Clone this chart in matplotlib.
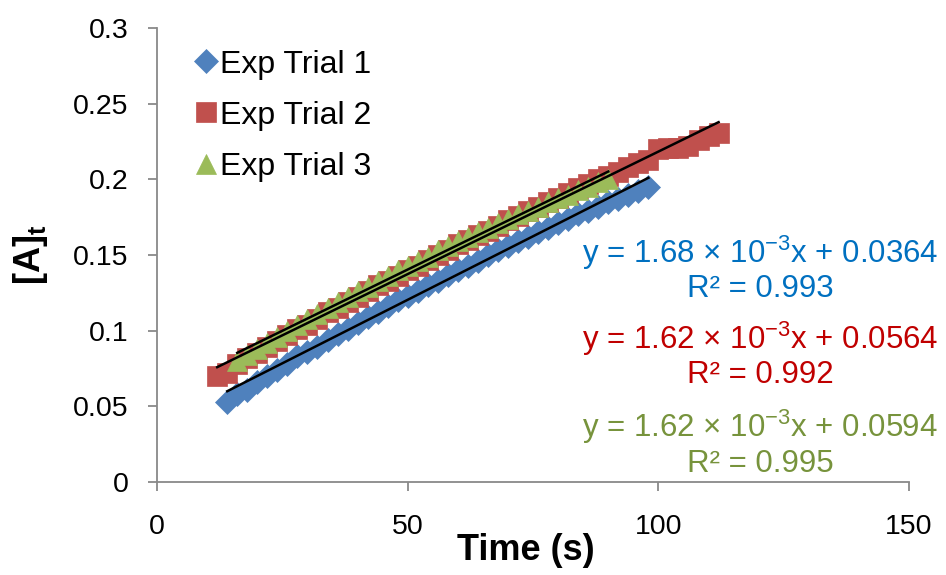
import numpy as np
import matplotlib
matplotlib.use("Agg")
import matplotlib.pyplot as plt

plt.rcParams['font.family'] = ['Liberation Sans', 'DejaVu Sans']
plt.rcParams['mathtext.fontset'] = 'custom'
plt.rcParams['mathtext.rm'] = 'Liberation Sans'
plt.rcParams['mathtext.it'] = 'Liberation Sans:italic'
plt.rcParams['mathtext.bf'] = 'Liberation Sans:bold'

# ---- data ----
t1 = [14, 16, 18, 20, 22, 24, 26, 28, 30, 32, 34, 36, 38, 40, 42, 44, 46, 48, 50, 52, 54, 56,
      58, 60, 62, 64, 66, 68, 70, 72, 74, 76, 78, 80, 82, 84, 86, 88, 90, 92, 94, 96, 98]
a1 = [0.053, 0.058, 0.061, 0.066, 0.070, 0.074, 0.078, 0.083, 0.086, 0.089, 0.094, 0.098,
      0.101, 0.105, 0.109, 0.112, 0.116, 0.120, 0.123, 0.126, 0.130, 0.133, 0.137, 0.140,
      0.143, 0.146, 0.150, 0.153, 0.156, 0.159, 0.162, 0.165, 0.168, 0.171, 0.174, 0.177,
      0.179, 0.182, 0.185, 0.187, 0.190, 0.192, 0.195]

t2 = [12, 14, 16, 18, 20, 22, 24, 26, 28, 30, 32, 34, 36, 38, 40, 42, 44, 46, 48, 50, 52, 54,
      56, 58, 60, 62, 64, 66, 68, 70, 72, 74, 76, 78, 80, 82, 84, 86, 88, 90, 92, 94, 96, 98,
      100, 102, 104, 106, 108, 110, 112]
a2 = [0.070, 0.072, 0.078, 0.082, 0.085, 0.089, 0.093, 0.097, 0.101, 0.104, 0.108, 0.112,
      0.115, 0.119, 0.122, 0.126, 0.130, 0.133, 0.136, 0.140, 0.143, 0.147, 0.150, 0.153,
      0.157, 0.160, 0.163, 0.166, 0.169, 0.173, 0.176, 0.179, 0.182, 0.185, 0.188, 0.191,
      0.194, 0.197, 0.200, 0.202, 0.205, 0.208, 0.211, 0.213, 0.220, 0.221, 0.221, 0.222,
      0.226, 0.229, 0.231]

t3 = [16, 18, 20, 22, 24, 26, 28, 30, 32, 34, 36, 38, 40, 42, 44, 46, 48, 50, 52, 54, 56, 58,
      60, 62, 64, 66, 68, 70, 72, 74, 76, 78, 80, 82, 84, 86, 88, 90]
a3 = [0.080, 0.084, 0.088, 0.092, 0.096, 0.100, 0.104, 0.108, 0.111, 0.115, 0.119, 0.122,
      0.126, 0.129, 0.133, 0.136, 0.140, 0.143, 0.146, 0.149, 0.153, 0.156, 0.159, 0.162,
      0.165, 0.168, 0.171, 0.174, 0.177, 0.179, 0.182, 0.185, 0.188, 0.190, 0.193, 0.195,
      0.198, 0.200]

labels = ['Exp Trial 1', 'Exp Trial 2', 'Exp Trial 3']
slopes = [1.68e-3, 1.62e-3, 1.62e-3]
intercepts = [0.0364, 0.0564, 0.0594]
eq_texts = ['y = 1.68 × $10^{-3}$x + 0.0364\nR² = 0.993',
            'y = 1.62 × $10^{-3}$x + 0.0564\nR² = 0.992',
            'y = 1.62 × $10^{-3}$x + 0.0594\nR² = 0.995']

colors = ['#4F81BD', '#C0504D', '#9BBB59']
text_colors = ['#0070C0', '#C00000', '#77933C']
markers = ['D', 's', '^']
msizes = [12, 14, 14]
eq_y = [0.470, 0.280, 0.085]

fig = plt.figure(figsize=(9.46, 5.75), dpi=100)
ax = fig.add_axes([0.166, 0.162, 0.795, 0.789])

series = [(t1, a1), (t2, a2), (t3, a3)]
for i, (t, a) in enumerate(series):
    ax.plot(t, a, linestyle='none', marker=markers[i], markersize=msizes[i],
            color=colors[i], markeredgecolor=colors[i], markeredgewidth=0.5,
            label=labels[i], zorder=2 + i)

# trendlines over each series' range
for i, (t, a) in enumerate(series):
    xs = np.array([t[0], t[-1]])
    ax.plot(xs, slopes[i] * xs + intercepts[i], color='black', lw=1.8, zorder=6)

for i in range(3):
    ax.text(0.802, eq_y[i], eq_texts[i], transform=ax.transAxes, ha='center', va='center',
            multialignment='center', fontsize=22.5, color=text_colors[i],
            linespacing=1.1, clip_on=False, zorder=7)

ax.set_xlim(0, 150)
ax.set_ylim(0, 0.3)
ax.set_xticks([0, 50, 100, 150])
ax.set_yticks([0, 0.05, 0.1, 0.15, 0.2, 0.25, 0.3])
ax.set_yticklabels(['0', '0.05', '0.1', '0.15', '0.2', '0.25', '0.3'])

gray = '#898989'
for s in ['top', 'right']:
    ax.spines[s].set_visible(False)
for s in ['left', 'bottom']:
    ax.spines[s].set_color(gray)
    ax.spines[s].set_linewidth(1.3)
ax.tick_params(axis='both', direction='out', length=6.5, width=1.3, color=gray,
               labelsize=20.5, labelcolor='black')
ax.tick_params(axis='x', pad=17)
ax.tick_params(axis='y', pad=14)

ax.set_xlabel('Time (s)', fontsize=26, fontweight='bold', va='center')
ax.xaxis.set_label_coords(0.491, -0.152)
ax.set_ylabel(r'$\mathbf{[A]_t}$', fontsize=26, va='center')
ax.yaxis.set_label_coords(-0.168, 0.5)

ax.legend(loc='upper left', bbox_to_anchor=(0.033, 0.981), frameon=False, fontsize=23,
          handletextpad=0.1, labelspacing=0.66, handlelength=0.7, borderaxespad=0)

fig.savefig('out.png', dpi=100)
